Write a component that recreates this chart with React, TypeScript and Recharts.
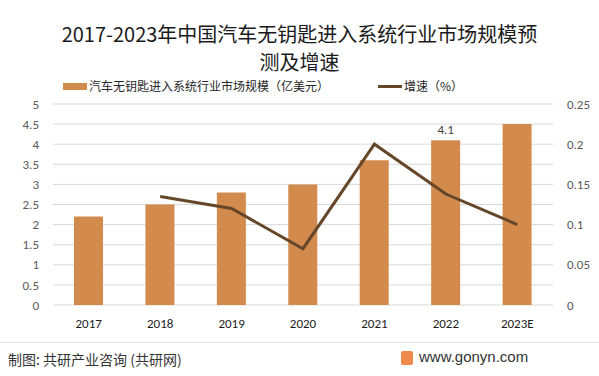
import React from 'react';
import { ComposedChart, Bar, Line, XAxis, YAxis, CartesianGrid, LabelList } from 'recharts';

const years = ['2017', '2018', '2019', '2020', '2021', '2022', '2023E'];
const marketSize = [2.2, 2.5, 2.8, 3.0, 3.6, 4.1, 4.5];
const growth = [null, 0.135, 0.12, 0.07, 0.2, 0.138, 0.1];
const barLabels = ['', '', '', '', '', '4.1', ''];
const leftTicks = [0, 0.5, 1, 1.5, 2, 2.5, 3, 3.5, 4, 4.5, 5];
const rightTicks = [0, 0.05, 0.1, 0.15, 0.2, 0.25];

const data = years.map((year, i) => ({
  year,
  size: marketSize[i],
  growth: growth[i],
  label: barLabels[i],
}));

const BAR_COLOR = '#D38B4D';
const LINE_COLOR = '#654629';
const cjk = '"Noto Sans CJK SC", "Noto Sans", sans-serif';
const tickFont = 'Carlito, "Liberation Sans", "Noto Sans", sans-serif';

const App = () => {
  return (
    <div style={{ position: 'absolute', left: 0, top: 0, width: 599, height: 376, background: '#fff', fontFamily: cjk, overflow: 'hidden' }}>
      {/* title */}
      <div style={{ position: 'absolute', top: 19, left: 0, width: 599, textAlign: 'center', fontSize: 20, color: '#1a1a1a' }}>
        <div style={{ height: 30, lineHeight: '30px' }}>2017-2023年中国汽车无钥匙进入系统行业市场规模预</div>
        <div style={{ height: 26, lineHeight: '26px' }}>测及增速</div>
      </div>

      {/* legend */}
      <div style={{ position: 'absolute', top: 79, left: 63, height: 14, lineHeight: '14px', display: 'flex', alignItems: 'center', fontSize: 12, color: '#262626' }}>
        <div style={{ width: 24, height: 7, background: BAR_COLOR, marginRight: 2 }} />
        <span>汽车无钥匙进入系统行业市场规模（亿美元）</span>
      </div>
      <div style={{ position: 'absolute', top: 79, left: 378, height: 14, lineHeight: '14px', display: 'flex', alignItems: 'center', fontSize: 12, color: '#262626' }}>
        <div style={{ width: 24, height: 3, background: LINE_COLOR, marginRight: 2 }} />
        <span>增速（%）</span>
      </div>

      <div style={{ position: 'absolute', left: 0, top: 0 }}>
        <ComposedChart width={599} height={336} data={data} margin={{ top: 104, right: 0, bottom: 0, left: 0 }} barCategoryGap="30%">
          <CartesianGrid yAxisId="left" vertical={false} stroke="#d9d9d9" />
          <XAxis
            dataKey="year"
            axisLine={false}
            tickLine={false}
            height={31}
            tick={{ fill: '#1a1a1a', fontSize: 13, fontFamily: tickFont }}
            tickMargin={8}
          />
          <YAxis
            yAxisId="left"
            domain={[0, 5]}
            ticks={leftTicks}
            interval={0}
            axisLine={false}
            tickLine={false}
            width={53}
            tickMargin={8}
            tick={{ fill: '#595959', fontSize: 13, fontFamily: tickFont }}
          />
          <YAxis
            yAxisId="right"
            orientation="right"
            domain={[0, 0.25]}
            ticks={rightTicks}
            interval={0}
            axisLine={false}
            tickLine={false}
            width={46}
            tickMargin={8}
            tick={{ fill: '#595959', fontSize: 13, fontFamily: tickFont, textAnchor: 'start' }}
          />
          <Bar yAxisId="left" dataKey="size" fill={BAR_COLOR} barSize={29} isAnimationActive={false}>
            <LabelList dataKey="label" position="top" offset={6} fill="#404040" fontSize={13} fontFamily={tickFont} />
          </Bar>
          <Line
            yAxisId="right"
            dataKey="growth"
            stroke={LINE_COLOR}
            strokeWidth={3}
            dot={false}
            type="linear"
            isAnimationActive={false}
          />
        </ComposedChart>
      </div>

      {/* footer */}
      <div style={{ position: 'absolute', top: 342, left: 0, width: 599, height: 1, background: '#e6e6e6' }} />
      <div style={{ position: 'absolute', top: 349, left: 8, fontSize: 14, color: '#333' }}>制图: 共研产业咨询 (共研网)</div>
      <div style={{ position: 'absolute', top: 351, left: 401, width: 12, height: 14, background: '#ef8a4a', borderRadius: 2 }} />
      <div style={{ position: 'absolute', top: 348, left: 419, fontSize: 15, color: '#333', fontFamily: '"Liberation Sans", sans-serif' }}>www.gonyn.com</div>
    </div>
  );
};

export default App;
